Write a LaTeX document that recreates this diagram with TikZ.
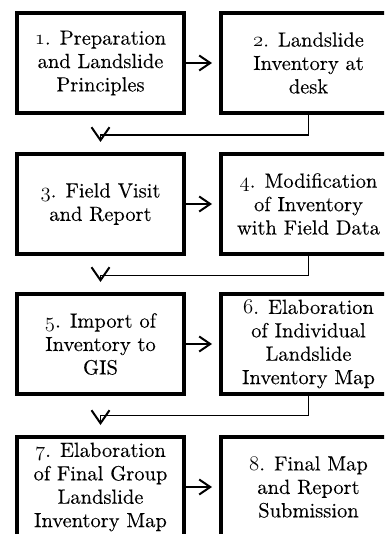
\documentclass[tikz,border=0pt]{standalone}
\usepackage{fontspec}
\usepackage{tikz}
\usetikzlibrary{arrows.meta,positioning}
\newfontfamily\stepfont{lmroman10-regular.otf}[FakeBold=0.15]
\newcommand\stepno[1]{{\fontencoding{OML}\fontfamily{cmm}\fontseries{m}\fontshape{it}\selectfont#1}}

\tikzset{
  stepbox/.style={draw,line width=4pt,fill=white,
                  minimum width=167pt,minimum height=100pt,inner sep=0pt,
                  text=black,align=center,font=\stepfont\fontsize{20.5}{23.4}\selectfont},
  nextarrow/.style={line width=2pt,-{Straight Barb[length=11pt,width=15pt]},shorten >=7pt},
  rowarrow/.style={line width=1.6pt,-{Straight Barb[length=13pt,width=18pt,line width=2pt]},shorten >=10pt},
}

\begin{document}
\begin{tikzpicture}[x=1pt,y=-1pt]
        \useasboundingbox (0,0) rectangle (384,534);
        \clip (0,0) rectangle (384,534);
        % first row
        \node[stepbox] (prep) at (100.5,63) {\stepno{1}. Preparation\\and Landslide\\Principles};
        \node[stepbox,minimum width=175pt] (desk) at (308.5,63) {\stepno{2}. Landslide\\Inventory at\\desk};
        % second row
        \node[stepbox] (field) at (100.5,204) {\stepno{3}. Field Visit\\and Report};
        \node[stepbox,minimum width=175pt] (modif) at (308.5,204) {\stepno{4}. Modification\\of Inventory\\with Field Data};
        % third row
        \node[stepbox] (gis) at (100.5,344) {\stepno{5}. Import of\\Inventory to\\GIS};
        \node[stepbox,minimum width=175pt] (indiv) at (308.5,344) {\stepno{6}. Elaboration\\of Individual\\Landslide\\Inventory Map};
        % fourth row
        \node[stepbox] (group) at (100.5,487) {\stepno{7}. Elaboration\\of Final Group\\Landslide\\Inventory Map};
        \node[stepbox,minimum width=175pt] (final) at (308.5,487) {\stepno{8}. Final Map\\and Report\\Submission};
        % arrows
        \draw[nextarrow] (prep) -- (desk);
        \draw[nextarrow] (field) -- (modif);
        \draw[nextarrow] (gis) -- (indiv);
        \draw[nextarrow] (group) -- (final);
        \draw[rowarrow] (desk.south) -- ++(0,20) -| (field.north);
        \draw[rowarrow] (modif.south) -- ++(0,19.5) -| (gis.north);
        \draw[rowarrow] (indiv.south) -- ++(0,19.5) -| (group.north);
      \end{tikzpicture}
\end{document}
